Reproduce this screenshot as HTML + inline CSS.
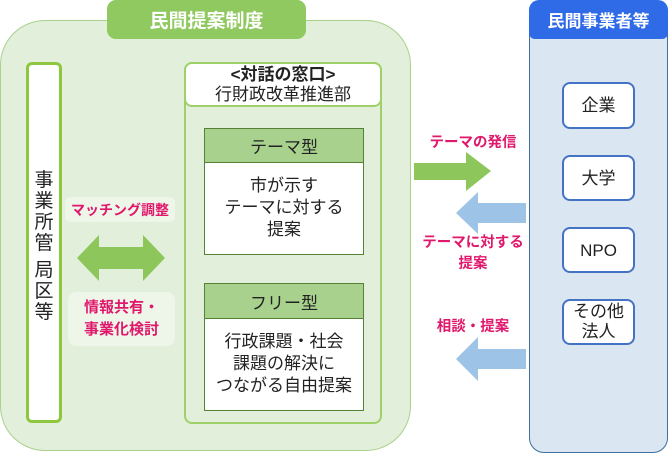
<!DOCTYPE html>
<html><head><meta charset="utf-8"><style>
*{margin:0;padding:0;box-sizing:border-box}
body{width:670px;height:454px;background:#fff;position:relative;overflow:hidden;font-family:"Liberation Sans","Noto Sans CJK JP",sans-serif;color:#222}
.a{position:absolute}
.c{display:flex;align-items:center;justify-content:center;text-align:center}
.pk{color:#e0186c;font-weight:bold;font-size:14.5px;line-height:20px;white-space:nowrap}
.rb{background:#fff;border:2px solid #4472c4;border-radius:8px;font-size:17px;line-height:21px}
.vc{position:absolute;left:0;width:100%;text-align:center;font-size:19px;line-height:20px}
</style></head><body>
<div class="a" style="left:0;top:20px;width:411px;height:431px;background:#e2efda;border:1.5px solid #a9d18e;border-radius:45px"></div>
<div class="a c" style="left:107px;top:0;width:199px;height:39px;background:#8fc95f;border-radius:9px;color:#fff;font-weight:bold;font-size:19px">民間提案制度</div>

<div class="a" style="left:26px;top:62px;width:36px;height:361px;background:#fff;border:3px solid #8dc63f;border-radius:6px">
<div class="vc" style="top:106px">事</div>
<div class="vc" style="top:127px">業</div>
<div class="vc" style="top:148px">所</div>
<div class="vc" style="top:169px">管</div>
<div class="vc" style="top:196px">局</div>
<div class="vc" style="top:217px">区</div>
<div class="vc" style="top:238px">等</div>
</div>

<div class="a c pk" style="left:65px;top:197px;width:110px;height:25px;background:#eef5e9;border-radius:5px;font-size:14px">マッチング調整</div>
<svg class="a" style="left:76px;top:234px" width="92" height="48"><polygon points="1,24 23,1 23,13 67,13 67,1 89,24 67,47 67,35 23,35 23,47" fill="#8dc65b"/></svg>
<div class="a c pk" style="left:68px;top:292px;width:107px;height:54px;background:#eef5e9;border-radius:8px;font-size:15px;line-height:22px">情報共有・<br>事業化検討</div>

<div class="a" style="left:184px;top:62px;width:198px;height:362px;border:2.5px solid #9fd16b;border-radius:8px"></div>
<div class="a c" style="left:184px;top:62px;width:198px;height:45px;background:#fff;border:2.5px solid #9fd16b;border-radius:8px;flex-direction:column;font-size:17px;line-height:20px"><b>&lt;対話の窓口&gt;</b><span>行財政改革推進部</span></div>

<div class="a" style="left:204px;top:128px;width:160px;height:127px;border:1.5px solid #548235;background:#fff">
<div class="c" style="height:34px;background:#a9d18e;border-bottom:1.5px solid #548235;font-size:17px">テーマ型</div>
<div class="c" style="height:90px;font-size:17px;line-height:22px">市が示す<br>テーマに対する<br>提案</div>
</div>
<div class="a" style="left:204px;top:283px;width:160px;height:128px;border:1.5px solid #548235;background:#fff">
<div class="c" style="height:35px;background:#a9d18e;border-bottom:1.5px solid #548235;font-size:17px">フリー型</div>
<div class="c" style="height:90px;font-size:17px;line-height:22px">行政課題・社会<br>課題の解決に<br>つながる自由提案</div>
</div>

<div class="a c pk" style="left:420px;top:133px;width:106px;height:20px">テーマの発信</div>
<svg class="a" style="left:414px;top:152px" width="80" height="40"><polygon points="0,11 52,11 52,0 77,19 52,39 52,28 0,28" fill="#8dc65b"/></svg>
<svg class="a" style="left:455px;top:192px" width="72" height="44"><polygon points="71,11 23,11 23,0 1,21 23,42 23,31 71,31" fill="#9dc3e6"/></svg>
<div class="a c pk" style="left:416px;top:233px;width:114px;height:42px;line-height:21px">テーマに対する<br>提案</div>
<div class="a c pk" style="left:420px;top:317px;width:106px;height:20px">相談・提案</div>
<svg class="a" style="left:455px;top:337px" width="72" height="46"><polygon points="71,12 23,12 23,0 1,22 23,44 23,32 71,32" fill="#9dc3e6"/></svg>

<div class="a" style="left:529px;top:0;width:139px;height:453px;background:#dae6f2;border:1.5px solid #41719c;border-radius:15px"></div>
<div class="a c" style="left:529px;top:0;width:139px;height:39px;background:#2f6be6;border-radius:10px 10px 6px 6px;color:#fff;font-weight:bold;font-size:17px">民間事業者等</div>
<div class="a c rb" style="left:562px;top:82px;width:73px;height:47px">企業</div>
<div class="a c rb" style="left:562px;top:155px;width:73px;height:46px">大学</div>
<div class="a c rb" style="left:562px;top:227px;width:73px;height:46px">NPO</div>
<div class="a c rb" style="left:562px;top:299px;width:73px;height:46px;line-height:20px">その他<br>法人</div>
</body></html>
